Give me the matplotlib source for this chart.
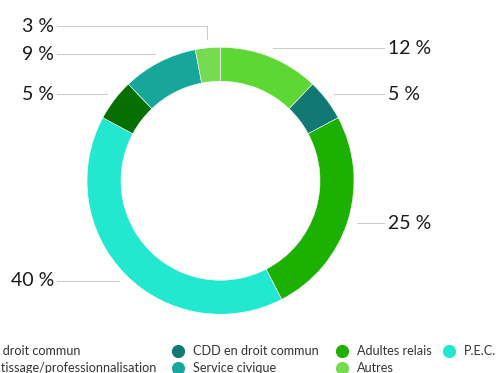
import numpy as np
import matplotlib
matplotlib.use("Agg")
import matplotlib.pyplot as plt

# ---- data (pie order, clockwise from top) ----
categories = ["Apprentissage/professionnalisation", "CDD en droit commun", "Adultes relais",
              "P.E.C.", "CDI en droit commun", "Service civique", "Autres"]
values = [12, 5, 25, 40, 5, 9, 3]
labels = ["12 %", "5 %", "25 %", "40 %", "5 %", "9 %", "3 %"]
colors = ["#5dd733", "#117873", "#1cb000", "#22e8d0", "#057000", "#17a79a", "#75db4f"]

# legend layout (row-major, 4 columns)
legend_rows = [["CDI en droit commun", "CDD en droit commun", "Adultes relais", "P.E.C."],
               ["Apprentissage/professionnalisation", "Service civique", "Autres"]]

plt.rcParams['font.family'] = ['Lato', 'DejaVu Sans']

W, H = 500, 373
fig = plt.figure(figsize=(5, 3.73), dpi=100)
ax = fig.add_axes([0, 0, 1, 1])

cx, cy = 220.5, 180.75     # pixel coords (y down)
R, ring = 133.5, 34.0

def Y(ypix):
    return H - ypix

ax.pie(values, colors=colors, center=(cx, Y(cy)), radius=R, startangle=90,
       counterclock=False, wedgeprops=dict(width=ring, linewidth=0.4, edgecolor="white"))
ax.set_xlim(0, W)
ax.set_ylim(0, H)
ax.set_aspect('equal')
ax.axis('off')

# ---- data labels with connectors ----
vals = np.array(values, dtype=float)
fr = vals / vals.sum()
cum = np.cumsum(fr) - fr / 2
theta = cum * 2 * np.pi
ra = R + 9
anc_x = cx + ra * np.sin(theta)
anc_y = cy - ra * np.cos(theta)
right = np.sin(theta) > 0
lab_y = anc_y.copy()
gap = 28
for side in (True, False):
    idx = [i for i in range(len(vals)) if right[i] == side]
    idx.sort(key=lambda i: anc_y[i])
    for a, b in zip(idx[:-1], idx[1:]):
        if lab_y[b] - lab_y[a] < gap:
            if vals[a] < vals[b]:
                lab_y[a] = lab_y[b] - gap
            else:
                lab_y[b] = lab_y[a] + gap

dist = 30
for i in range(len(vals)):
    if right[i]:
        edge = cx + R + dist
        tx, ha = edge + 4, 'left'
    else:
        edge = cx - R - dist
        tx, ha = edge - 3, 'right'
    xs = [edge, anc_x[i], anc_x[i]]
    ys = [lab_y[i], lab_y[i], anc_y[i]]
    ax.plot(xs, [Y(v) for v in ys], color="#cccccc", lw=0.75, solid_joinstyle='round')
    ax.text(tx, Y(lab_y[i]), labels[i], ha=ha, va='center', fontsize=14, color="#1a1a1a")

# ---- legend ----
col_text_x = [-39, 193, 357, 464]
row_y = [351, 368]
cmap = dict(zip(categories, colors))
for r, row in enumerate(legend_rows):
    for c, name in enumerate(row):
        tx = col_text_x[c]
        ax.scatter([tx - 15], [Y(row_y[r])], s=72, color=cmap[name], clip_on=False, zorder=3)
        ax.text(tx, Y(row_y[r]), name, ha='left', va='center', fontsize=9.1, color="#333333")

fig.savefig("out.png", dpi=100)
